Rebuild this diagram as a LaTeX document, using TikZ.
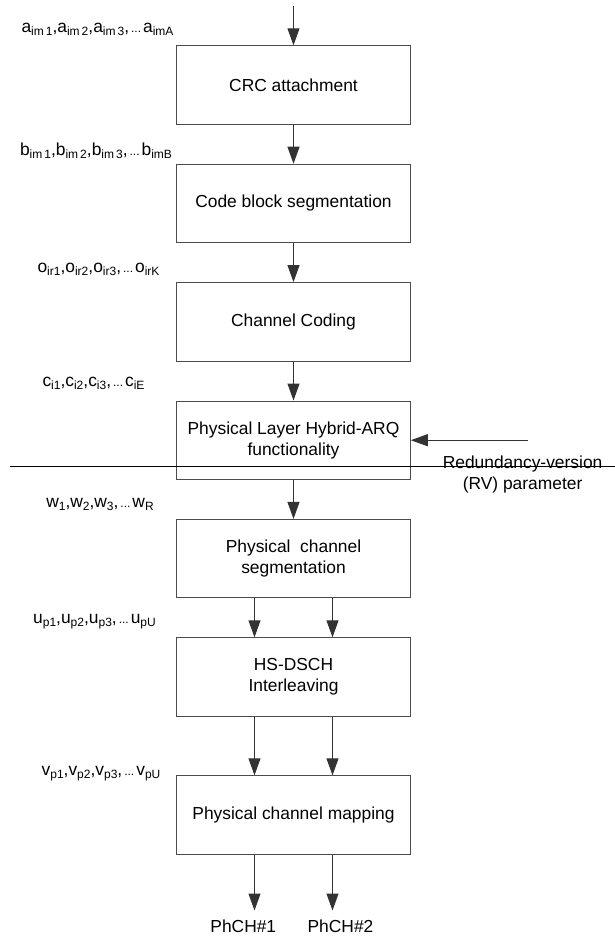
\documentclass[tikz,border=0pt]{standalone}
\usepackage{fontspec}
\setmainfont{Liberation Sans}
\usepackage{tikz}
\usetikzlibrary{arrows.meta, positioning, calc}

\newcommand{\lsub}[1]{\raisebox{-0.4ex}{\fontsize{6}{7}\selectfont #1}}
\newcommand{\lpts}{{\fontsize{6}{7}\selectfont\,...\,}}

\begin{document}
\begin{tikzpicture}[
        every node/.style={align=center, font=\fontsize{8.7}{10.5}\selectfont},
        etapa/.style={draw=black!70, line width=0.5pt, minimum width=116.8pt, minimum height=39.2pt, inner sep=2pt},
        seq/.style={anchor=base, inner sep=0pt},
        seta/.style={-{Triangle[length=8.5pt, width=6pt]}, line width=0.5pt, black!80}
    ]
        \useasboundingbox (0,0) rectangle (307.5pt,-469.5pt);
        % processing chain
        \node[etapa] (crc) at (146.75pt,-42.5pt) {CRC attachment};
        \node[etapa, below=19.5pt of crc] (cbs) {Code block segmentation};
        \node[etapa, below=19.5pt of cbs] (cod) {Channel Coding};
        \node[etapa, below=19.5pt of cod] (harq) {Physical Layer Hybrid-ARQ\\functionality};
        \node[etapa, below=19.5pt of harq] (pcs) {Physical~~channel\\segmentation};
        \node[etapa, below=19.5pt of pcs] (intl) {HS-DSCH\\Interleaving};
        \node[etapa, below=29.3pt of intl] (pcm) {Physical channel mapping};
        \coordinate[above=19.65pt of crc] (entrada);
        \draw[seta] (entrada) -- (crc);
        \draw[seta] (crc) -- (cbs);
        \draw[seta] (cbs) -- (cod);
        \draw[seta] (cod) -- (harq);
        \draw[seta] (harq) -- (pcs);
        \draw[seta] ([xshift=-19.5pt]pcs.south) -- ([xshift=-19.5pt]intl.north);
        \draw[seta] ([xshift=19.5pt]pcs.south) -- ([xshift=19.5pt]intl.north);
        \draw[seta] ([xshift=-19.5pt]intl.south) -- ([xshift=-19.5pt]pcm.north);
        \draw[seta] ([xshift=19.5pt]intl.south) -- ([xshift=19.5pt]pcm.north);
        % outputs
        \coordinate (saida1) at ($(pcm.south)+(-19.5pt,-27.9pt)$);
        \coordinate (saida2) at ($(pcm.south)+(19.5pt,-27.9pt)$);
        \draw[seta] ([xshift=-19.5pt]pcm.south) -- (saida1);
        \draw[seta] ([xshift=19.5pt]pcm.south) -- (saida2);
        \node (ph1) at (121.65pt,-463.35pt) {PhCH\#1};
        \node (ph2) at (170.25pt,-463.35pt) {PhCH\#2};
        % RV input
        \coordinate[right=58.7pt of harq.east] (rv);
        \draw[seta] (rv) -- (harq.east);
        \node (rvtxt) at (261.3pt,-237.1pt) {Redundancy-version\\(RV) parameter};
        \coordinate (corteA) at (5pt,-233.35pt);
        \coordinate (corteB) at (307.5pt,-233.35pt);
        \draw[line width=0.6pt] (corteA) -- (corteB);
        % bit sequences
        \node[seq] (sa) at (48.75pt,-16pt) {a\lsub{im\,1},a\lsub{im\,2},a\lsub{im\,3},\lpts a\lsub{imA}};
        \node[seq] (sb) at (48pt,-77.5pt) {b\lsub{im\,1},b\lsub{im\,2},b\lsub{im\,3},\lpts b\lsub{imB}};
        \node[seq] (so) at (49.25pt,-136pt) {o\lsub{ir1},o\lsub{ir2},o\lsub{ir3},\lpts o\lsub{irK}};
        \node[seq] (sc) at (46.75pt,-193pt) {c\lsub{i1},c\lsub{i2},c\lsub{i3},\lpts c\lsub{iE}};
        \node[seq] (sw) at (50pt,-253.5pt) {w\lsub{1},w\lsub{2},w\lsub{3},\lpts w\lsub{R}};
        \node[seq] (su) at (47.25pt,-311.5pt) {u\lsub{p1},u\lsub{p2},u\lsub{p3},\lpts u\lsub{pU}};
        \node[seq] (sv) at (50.5pt,-387.5pt) {v\lsub{p1},v\lsub{p2},v\lsub{p3},\lpts v\lsub{pU}};
    \end{tikzpicture}
\end{document}
